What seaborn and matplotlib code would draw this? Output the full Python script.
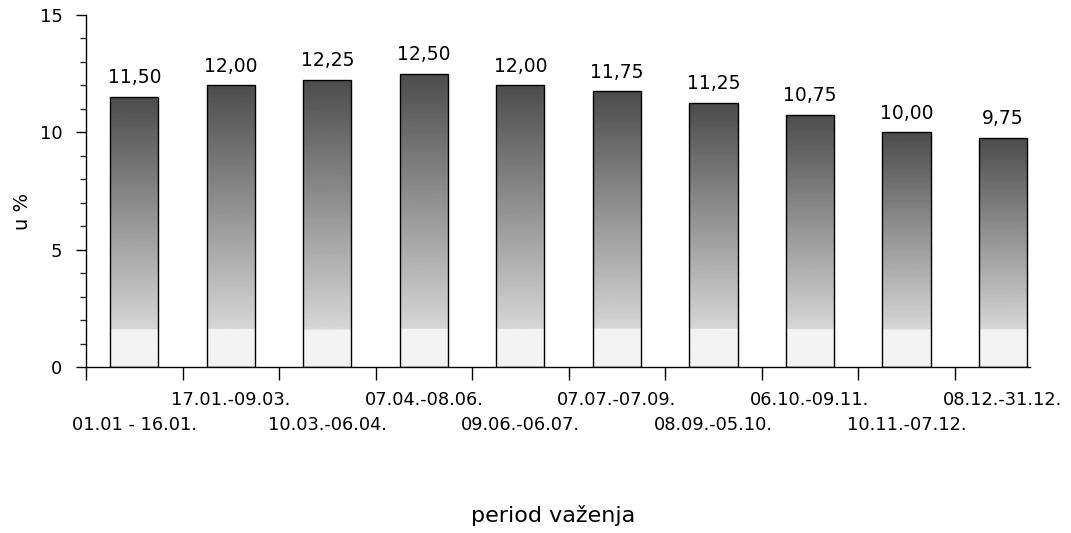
import numpy as np
import matplotlib
matplotlib.use("Agg")
import matplotlib.pyplot as plt
from matplotlib.ticker import FixedLocator, FixedFormatter, NullFormatter
import seaborn as sns

periods = ["01.01 - 16.01.", "17.01.-09.03.", "10.03.-06.04.", "07.04.-08.06.",
           "09.06.-06.07.", "07.07.-07.09.", "08.09.-05.10.", "06.10.-09.11.",
           "10.11.-07.12.", "08.12.-31.12."]
rates = [11.50, 12.00, 12.25, 12.50, 12.00, 11.75, 11.25, 10.75, 10.00, 9.75]
value_labels = ["11,50", "12,00", "12,25", "12,50", "12,00", "11,75", "11,25", "10,75", "10,00", "9,75"]
y_ticks = [0, 5, 10, 15]

sns.set_theme(style="white")
plt.rcParams['font.family'] = ['DejaVu Sans']

fig = plt.figure(figsize=(10.71, 5.33), dpi=100)
ax = fig.add_axes([86/1071, 1 - 367/533, (1030 - 86)/1071, (367 - 15)/533])

sns.barplot(x=periods, y=rates, order=periods, width=0.5, color="#888888",
            edgecolor="black", linewidth=1.0, ax=ax, zorder=2)

# gradient fill inside each bar
for p in ax.patches:
    x0 = p.get_x(); w = p.get_width(); h = p.get_height()
    n = 200
    yy = np.linspace(0, h, n)
    light_band = 1.6
    frac = np.clip((yy - light_band) / (h - light_band), 0, 1)
    vals = np.where(yy < light_band, 0.95, 0.84 - 0.54 * frac)
    img = vals[:, None] * np.ones((1, 4))
    im = ax.imshow(img, extent=(x0, x0 + w, 0, h), origin="lower", cmap="gray",
                   vmin=0, vmax=1, aspect="auto", zorder=2.5, interpolation="bilinear")
    im.set_clip_path(p)
    p.set_facecolor("none")
    p.set_zorder(3)

ax.bar_label(ax.containers[0], labels=value_labels, padding=7, fontsize=13.5, color="black")

ax.set_xlim(-0.5, 9.28)
ax.set_ylim(0, 15)
ax.set_yticks(y_ticks)
ax.set_yticks(np.arange(0, 16, 1), minor=True)
ax.tick_params(axis="y", which="major", length=7, width=1, direction="out", left=True,
               labelsize=13, pad=10, colors="black")
ax.tick_params(axis="y", which="minor", length=4, width=1, direction="out", left=True)

# category labels in two alternating rows: lower row on major ticks, upper row on minor ticks
idx = list(range(len(periods)))
lower_pos = [i for i in idx if i % 2 == 0]
upper_pos = [i for i in idx if i % 2 == 1]
ax.xaxis.set_major_locator(FixedLocator(lower_pos))
ax.xaxis.set_major_formatter(FixedFormatter([periods[i] for i in lower_pos]))
ax.xaxis.set_minor_locator(FixedLocator(upper_pos))
ax.xaxis.set_minor_formatter(FixedFormatter([periods[i] for i in upper_pos]))
ax.tick_params(axis="x", which="major", length=0, labelsize=12.8, pad=35, colors="black")
ax.tick_params(axis="x", which="minor", length=0, labelsize=12.8, pad=17, colors="black")

# boundary tick marks between categories
sec = ax.secondary_xaxis("bottom")
sec.set_xticks(np.arange(-0.5, 9.3, 1.0))
sec.xaxis.set_major_formatter(NullFormatter())
sec.tick_params(axis="x", length=9, width=1, direction="out", colors="black")
sec.spines["bottom"].set_visible(False)

for s in ["top", "right"]:
    ax.spines[s].set_visible(False)
for s in ["left", "bottom"]:
    ax.spines[s].set_color("black")
    ax.spines[s].set_linewidth(1.0)

ax.set_ylabel("u %", fontsize=14, color="black")
ax.yaxis.set_label_coords(-(86 - 22)/944, (367 - 211)/352)
ax.set_xlabel("period važenja", fontsize=16, color="black")
ax.xaxis.set_label_coords((553 - 86)/944, -(515 - 367)/352)
ax.xaxis.label.set_va("center")
ax.yaxis.label.set_va("center")

fig.savefig("out.png", dpi=100)
